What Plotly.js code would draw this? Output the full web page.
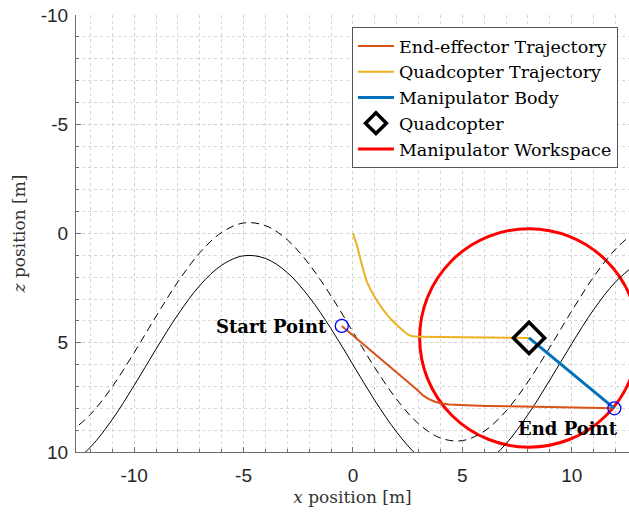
<!DOCTYPE html>
<html>
<head>
<meta charset="utf-8">
<script src="https://cdn.plot.ly/plotly-3.0.1.min.js"></script>
<style>html,body{margin:0;padding:0;background:#fff;}#chart{width:629px;height:512px;}</style>
</head>
<body>
<div id="chart"></div>
<script>
// Terrain boundary curves
var curveX = [-13,-12,-11,-10,-9,-8,-7,-6,-5,-4,-3,-2,-1,0,1,2,3,4,5,6,7,8,9,10,11,12,13];
var solidZ = [10.65,9.78,8.51,6.95,5.29,3.71,2.38,1.45,1.02,1.14,1.79,2.91,4.36,6.00,7.64,9.09,10.21,10.86,10.98,10.55,9.62,8.29,6.71,5.05,3.49,2.22,1.35];
var dashedZ = [9.15,8.28,7.01,5.45,3.79,2.21,0.88,-0.05,-0.48,-0.36,0.29,1.41,2.86,4.50,6.14,7.59,8.71,9.36,9.48,9.05,8.12,6.79,5.21,3.55,1.99,0.72,-0.15];

// End-effector trajectory
var eeX = [-0.51,0.0,0.64,1.24,1.85,2.5,2.92,3.22,3.45,3.75,3.99,4.4,4.75,5.5,6.12,7.0,8.25,10.0,11.95];
var eeZ = [4.23,4.66,5.21,5.74,6.22,6.78,7.14,7.42,7.57,7.70,7.77,7.83,7.85,7.87,7.89,7.91,7.95,7.97,8.0];

// Quadcopter trajectory
var quadX = [0.0,0.18,0.41,0.64,0.94,1.39,1.85,2.31,2.54,2.75,3.07,5.0,8.05];
var quadZ = [0.0,0.53,1.44,2.21,2.81,3.50,4.04,4.46,4.64,4.70,4.72,4.75,4.78];

// Manipulator body (quadcopter -> end effector)
var bodyX = [8.05,11.95];
var bodyZ = [4.78,8.0];

// Quadcopter position
var quadPosX = [8.05];
var quadPosZ = [4.78];

// Workspace circle
var wsCenterX = 8.05, wsCenterZ = 4.78, wsRadius = 5.0;

// Start / end points
var ptX = [-0.51, 11.95];
var ptZ = [4.23, 8.0];
var ptLabels = ['Start Point', 'End Point'];
var labelX = [-1.1, 9.81];
var labelZ = [4.27, 8.92];

var serif = 'DejaVu Serif, Liberation Serif, serif';

var traces = [
  {x: curveX, y: solidZ, mode: 'lines', line: {color: '#000', width: 1, shape: 'spline', smoothing: 1}, showlegend: false, hoverinfo: 'skip'},
  {x: curveX, y: dashedZ, mode: 'lines', line: {color: '#000', width: 1, dash: '8px,5px', shape: 'spline', smoothing: 1}, showlegend: false, hoverinfo: 'skip'},
  {x: eeX, y: eeZ, mode: 'lines', name: 'End-effector Trajectory', line: {color: '#D95319', width: 2}},
  {x: quadX, y: quadZ, mode: 'lines', name: 'Quadcopter Trajectory', line: {color: '#EDB120', width: 2, shape: 'spline', smoothing: 0.4}},
  {x: bodyX, y: bodyZ, mode: 'lines', name: 'Manipulator Body', line: {color: '#0072BD', width: 3}},
  {x: quadPosX, y: quadPosZ, mode: 'markers', name: 'Quadcopter', marker: {symbol: 'diamond-open', size: 24, color: '#000', line: {width: 3.5, color: '#000'}}},
  {x: [null], y: [null], mode: 'lines', name: 'Manipulator Workspace', line: {color: '#FF0000', width: 3}},
  {x: ptX, y: ptZ, mode: 'markers', showlegend: false, marker: {symbol: 'circle-open', size: 13, color: '#0000FF', line: {width: 1.3, color: '#0000FF'}}}
];

var axisCommon = {
  showline: true, linecolor: '#6e6e6e', linewidth: 1, mirror: false,
  ticks: 'inside', ticklen: 5, tickcolor: '#6e6e6e', tickwidth: 1,
  showgrid: true, gridcolor: '#cfcfcf', griddash: 'dot', gridwidth: 1,
  zeroline: false,
  tickfont: {family: 'Liberation Sans, Arial, sans-serif', size: 19, color: '#262626'},
  minor: {dtick: 1, showgrid: true, gridcolor: '#d6d6d6', griddash: 'dot', gridwidth: 1, ticks: 'inside', ticklen: 3, tickcolor: '#6e6e6e'}
};

var layout = {
  width: 629, height: 512,
  margin: {l: 76, r: 0, t: 15, b: 60},
  paper_bgcolor: '#fff', plot_bgcolor: '#fff',
  xaxis: Object.assign({}, axisCommon, {
    range: [-12.66, 12.62], tickvals: [-10,-5,0,5,10], ticktext: ['-10','-5','0','5','10'],
    ticklabelstandoff: 6,
    title: {text: '<i>x</i> position [m]', font: {family: serif, size: 17, color: '#333'}, standoff: 6}
  }),
  yaxis: Object.assign({}, axisCommon, {
    range: [10, -10], tickvals: [-10,-5,0,5,10], ticktext: ['-10','-5','0','5','10'],
    ticklabelstandoff: 3,
    title: {text: '<i>z</i> position [m]', font: {family: serif, size: 17, color: '#333'}, standoff: 10}
  }),
  legend: {
    x: 0.499, y: 0.9725, xanchor: 'left', yanchor: 'top',
    bgcolor: '#fff', bordercolor: '#555', borderwidth: 1,
    font: {family: serif, size: 17.5, color: '#000'},
    itemwidth: 36, tracegroupgap: 0
  },
  shapes: [{
    type: 'circle', xref: 'x', yref: 'y', layer: 'between',
    x0: wsCenterX - wsRadius, x1: wsCenterX + wsRadius,
    y0: wsCenterZ - wsRadius, y1: wsCenterZ + wsRadius,
    line: {color: '#FF0000', width: 3}
  }],
  annotations: [
    {x: labelX[0], y: labelZ[0], xref: 'x', yref: 'y', text: '<b>' + ptLabels[0] + '</b>', showarrow: false, xanchor: 'right', yanchor: 'middle', font: {family: serif, size: 18, color: '#000'}},
    {x: labelX[1], y: labelZ[1], xref: 'x', yref: 'y', text: '<b>' + ptLabels[1] + '</b>', showarrow: false, xanchor: 'center', yanchor: 'middle', font: {family: serif, size: 18, color: '#000'}}
  ]
};

Plotly.newPlot('chart', traces, layout, {displayModeBar: false, staticPlot: true});
</script>
</body>
</html>
